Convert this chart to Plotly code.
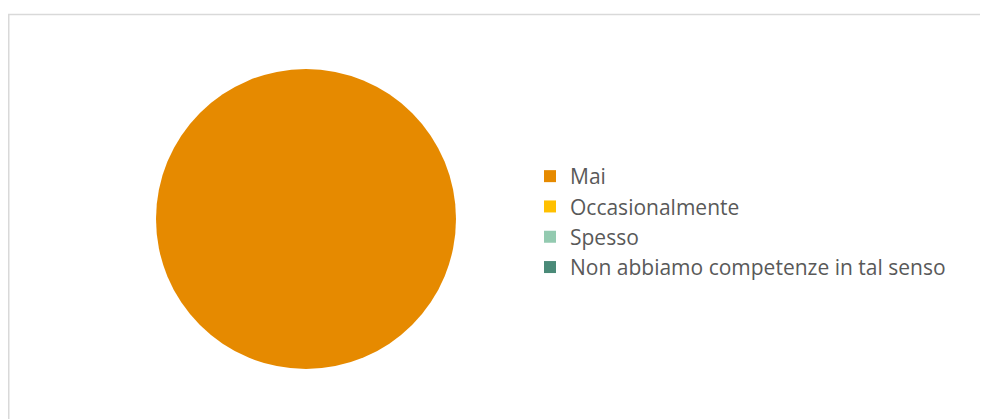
import plotly.graph_objects as go

labels = ["Mai", "Occasionalmente", "Spesso", "Non abbiamo competenze in tal senso"]
values = [100, 0, 0, 0]
colors = ["#E68A00", "#FFC000", "#93CAB0", "#4A8A78"]

W, H = 988, 419
# the page body adds an 8px margin, so pixel positions below are relative to the figure

fig = go.Figure()
fig.add_trace(go.Pie(
    labels=labels,
    values=values,
    marker=dict(colors=colors, line=dict(width=0)),
    textinfo="none",
    sort=False,
    direction="clockwise",
    domain=dict(x=[148 / W, 448 / W], y=[1 - 361 / H, 1 - 61 / H]),
    hoverinfo="label+percent",
))

# chart area border
fig.add_shape(type="rect", xref="paper", yref="paper",
              x0=0.75 / W, x1=1.05, y0=-0.05, y1=1 - 6.5 / H,
              line=dict(color="#D9D9D9", width=1.5))

fig.update_layout(
    width=W, height=H,
    margin=dict(l=0, r=0, t=0, b=0),
    paper_bgcolor="white",
    plot_bgcolor="white",
    font=dict(family="Open Sans, Noto Sans, sans-serif", color="#595959"),
    showlegend=True,
    legend=dict(
        x=522 / W, xanchor="left",
        y=1 - 214 / H, yanchor="middle",
        font=dict(size=21, color="#595959"),
        itemwidth=30,
    ),
)

fig.write_html("out.html")
